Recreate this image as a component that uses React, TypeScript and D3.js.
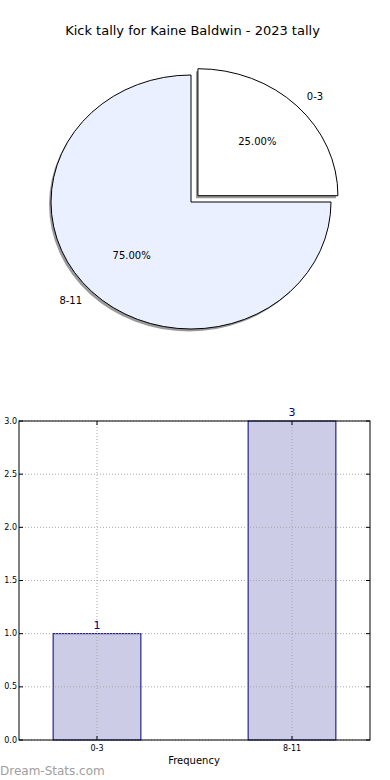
import React from "react";
import * as d3 from "d3";

const title = "Kick tally for Kaine Baldwin - 2023 tally";
const categories = ["0-3", "8-11"];
const counts = [1, 3];
const sliceColors = ["#ffffff", "#eaf0ff"];
const explode = [0.07, 0];
const yTicks = [0, 0.5, 1, 1.5, 2, 2.5, 3];

const W = 390;
const H = 780;
const FONT = "DejaVu Sans, sans-serif";

// pie geometry (the reference pie is squashed into an ellipse)
const cx = 191;
const cy = 202;
const rx = 140;
const ry = 127;

const bar = { left: 19, right: 370, top: 421, bottom: 740 };

const App = () => {
  const total = d3.sum(counts);
  // matplotlib style: start at east, go counterclockwise
  const pie = d3
    .pie<number>()
    .sort(null)
    .startAngle(Math.PI / 2)
    .endAngle(Math.PI / 2 - 2 * Math.PI);
  const arcs = pie(counts);
  const unitArc = d3.arc<d3.PieArcDatum<number>>().innerRadius(0).outerRadius(1);
  const at = (a: d3.PieArcDatum<number>, r: number) => {
    const mid = (a.startAngle + a.endAngle) / 2;
    return [Math.sin(mid) * r, -Math.cos(mid) * r];
  };

  const x = d3.scaleLinear().domain([-0.4, 1.4]).range([bar.left, bar.right]);
  const y = d3.scaleLinear().domain([0, 3]).range([bar.bottom, bar.top]);
  const barW = x(0.45) - x(0);
  const fmt = d3.format(".1f");

  return (
    <svg
      width={W}
      height={H}
      style={{ position: "absolute", left: 0, top: 0, background: "#fff" }}
      fontFamily={FONT}
    >
      <text x={192.5} y={35} fontSize={13} textAnchor="middle" fill="#000">
        {title}
      </text>

      {arcs.map((a, i) => {
        const [ox, oy] = at(a, explode[i]);
        const tx = cx + ox * rx;
        const ty = cy + oy * ry;
        return (
          <path
            key={"s" + i}
            d={unitArc(a) || ""}
            transform={`translate(${tx - 2},${ty + 2.5}) scale(${rx},${ry})`}
            fill="#9a9a9a"
          />
        );
      })}
      {arcs.map((a, i) => {
        const [ox, oy] = at(a, explode[i]);
        const tx = cx + ox * rx;
        const ty = cy + oy * ry;
        const [lx, ly] = at(a, 1.1);
        const [px, py] = at(a, 0.6);
        return (
          <g key={"p" + i}>
            <path
              d={unitArc(a) || ""}
              transform={`translate(${tx},${ty}) scale(${rx},${ry})`}
              fill={sliceColors[i]}
              stroke="#000"
              strokeWidth={1}
              vectorEffect="non-scaling-stroke"
            />
            <text
              x={tx + lx * rx}
              y={ty + ly * ry}
              fontSize={10}
              dominantBaseline="central"
              textAnchor={lx > 0 ? "start" : "end"}
            >
              {categories[i]}
            </text>
            <text
              x={tx + px * rx}
              y={ty + py * ry}
              fontSize={10}
              dominantBaseline="central"
              textAnchor="middle"
            >
              {d3.format(".2f")((counts[i] / total) * 100) + "%"}
            </text>
          </g>
        );
      })}

      {/* bar chart */}
      {categories.map((c, i) => (
        <rect
          key={"b" + c}
          x={x(i) - barW / 2}
          y={y(counts[i])}
          width={barW}
          height={y(0) - y(counts[i])}
          fill="#cccce6"
          stroke="#000080"
          strokeWidth={1}
        />
      ))}
      <g stroke="#a8a8a8" strokeWidth={1} strokeDasharray="1,2">
        {yTicks.map((t) => (
          <line key={"gy" + t} x1={bar.left} x2={bar.right} y1={y(t)} y2={y(t)} />
        ))}
        {categories.map((c, i) => (
          <line key={"gx" + c} x1={x(i)} x2={x(i)} y1={bar.top} y2={bar.bottom} />
        ))}
      </g>
      <g stroke="#000" strokeWidth={1}>
        {yTicks.map((t) => (
          <g key={"ty" + t}>
            <line x1={bar.left} x2={bar.left + 4} y1={y(t)} y2={y(t)} />
            <line x1={bar.right - 4} x2={bar.right} y1={y(t)} y2={y(t)} />
          </g>
        ))}
        {categories.map((c, i) => (
          <g key={"tx" + c}>
            <line x1={x(i)} x2={x(i)} y1={bar.bottom} y2={bar.bottom - 4} />
            <line x1={x(i)} x2={x(i)} y1={bar.top} y2={bar.top + 4} />
          </g>
        ))}
      </g>
      <rect
        x={bar.left}
        y={bar.top}
        width={bar.right - bar.left}
        height={bar.bottom - bar.top}
        fill="none"
        stroke="#000"
        strokeWidth={1}
      />
      {yTicks.map((t) => (
        <text
          key={"ly" + t}
          x={bar.left - 2}
          y={y(t)}
          fontSize={8}
          textAnchor="end"
          dominantBaseline="central"
        >
          {fmt(t)}
        </text>
      ))}
      {categories.map((c, i) => (
        <text key={"lx" + c} x={x(i)} y={751} fontSize={8} textAnchor="middle">
          {c}
        </text>
      ))}
      {categories.map((c, i) => (
        <text
          key={"v" + c}
          x={x(i)}
          y={y(counts[i]) - 5}
          fontSize={11}
          textAnchor="middle"
          fill="#000080"
        >
          {counts[i]}
        </text>
      ))}
      <text x={194} y={764} fontSize={10} textAnchor="middle">
        Frequency
      </text>
      <text x={0} y={775} fontSize={12} fill="#a0a0a0">
        Dream-Stats.com
      </text>
    </svg>
  );
};

export default App;
